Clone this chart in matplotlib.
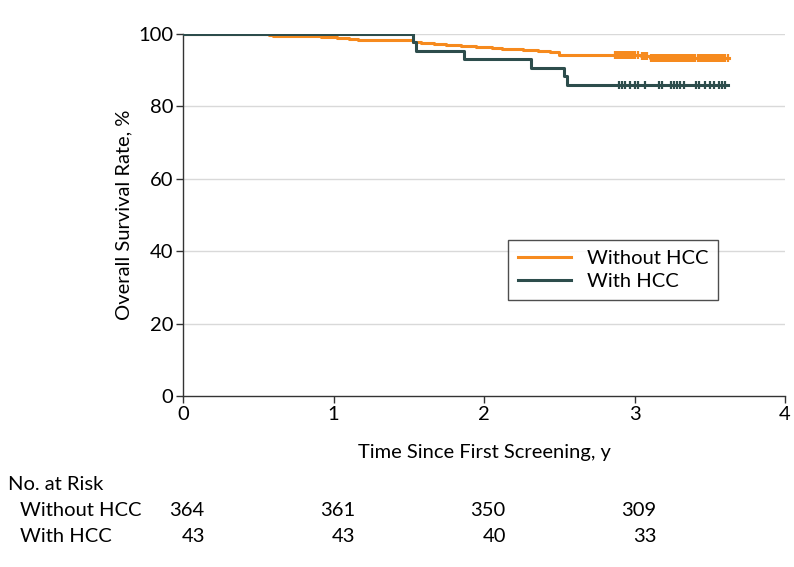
import numpy as np
import matplotlib
matplotlib.use('Agg')
import matplotlib.pyplot as plt
import matplotlib.transforms as mtransforms

plt.rcParams['font.family'] = ['Lato', 'DejaVu Sans']

ORANGE = '#F68A1E'
DARK = '#2D4D4C'
FS = 14.5

# Kaplan-Meier steps (time in years, survival in %)
no_hcc_t = [0, 0.57, 0.60, 0.92, 1.02, 1.10, 1.16, 1.53, 1.58, 1.67, 1.75, 1.85,
            1.95, 2.05, 2.12, 2.26, 2.36, 2.44, 2.50, 3.04, 3.10]
no_hcc_s = [100, 99.7, 99.4, 99.2, 98.9, 98.6, 98.3, 97.9, 97.6, 97.3, 97.0, 96.7,
            96.4, 96.2, 95.9, 95.6, 95.3, 95.0, 94.3, 93.8, 93.3]
no_hcc_end = 3.63
no_hcc_censor = [2.87, 2.88, 2.89, 2.90, 2.91, 2.92, 2.93, 2.94, 2.95, 2.96, 2.97,
                 2.98, 2.99, 3.00, 3.02, 3.05, 3.06, 3.07, 3.08, 3.11, 3.12, 3.13,
                 3.14, 3.15, 3.16, 3.17, 3.18, 3.19, 3.20, 3.21, 3.22, 3.23, 3.24,
                 3.25, 3.26, 3.27, 3.28, 3.29, 3.30, 3.31, 3.32, 3.33, 3.34, 3.35,
                 3.36, 3.37, 3.38, 3.39, 3.40, 3.42, 3.43, 3.44, 3.45, 3.46, 3.47,
                 3.48, 3.49, 3.50, 3.51, 3.52, 3.53, 3.54, 3.55, 3.56, 3.57, 3.58,
                 3.59, 3.60, 3.62]

hcc_t = [0, 1.53, 1.55, 1.87, 2.31, 2.53, 2.55]
hcc_s = [100, 97.7, 95.3, 93.0, 90.7, 88.3, 85.9]
hcc_end = 3.62
hcc_censor = [2.90, 2.92, 2.94, 2.97, 3.00, 3.02, 3.07, 3.16, 3.18, 3.24, 3.26,
              3.28, 3.30, 3.33, 3.41, 3.43, 3.47, 3.50, 3.53, 3.56, 3.58, 3.60]

risk_times = [0, 1, 2, 3]
risk_no_hcc = [364, 361, 350, 309]
risk_hcc = [43, 43, 40, 33]


def km_value(times, surv, x):
    idx = np.searchsorted(times, x, side='right') - 1
    return np.asarray(surv)[idx]


fig = plt.figure(figsize=(7.94, 5.67), dpi=100)
ax = fig.add_axes([0.2305, 0.3016, 0.7582, 0.6384])

for y in [20, 40, 60, 80, 100]:
    ax.axhline(y, color='#d9d9d9', lw=1, zorder=0)

for t, s, end, cens, col, lab in [
        (no_hcc_t, no_hcc_s, no_hcc_end, no_hcc_censor, ORANGE, 'Without HCC'),
        (hcc_t, hcc_s, hcc_end, hcc_censor, DARK, 'With HCC')]:
    xs = list(t) + [end]
    ys = list(s) + [s[-1]]
    ax.step(xs, ys, where='post', color=col, lw=2.2, label=lab, zorder=3)
    ax.plot(cens, km_value(t, s, np.array(cens)), ls='none', marker='|',
            ms=6, mew=1.6, color=col, zorder=4)

ax.set_xlim(0, 4)
ax.set_ylim(0, 100)
ax.set_xticks([0, 1, 2, 3, 4])
ax.set_yticks([0, 20, 40, 60, 80, 100])
for side in ['top', 'right']:
    ax.spines[side].set_visible(False)
for side in ['left', 'bottom']:
    ax.spines[side].set_color('#333333')
    ax.spines[side].set_linewidth(1)
ax.tick_params(direction='out', length=5, width=1, color='#333333',
               labelsize=FS, pad=2)
ax.set_xlabel('Time Since First Screening, y', fontsize=FS, labelpad=15)
ax.set_ylabel('Overall Survival Rate, %', fontsize=FS, labelpad=4)

leg = ax.legend(loc='upper left', bbox_to_anchor=(0.54, 0.432), fontsize=FS,
                frameon=True, fancybox=False, edgecolor='#222222',
                handlelength=2.6, borderpad=0.5, labelspacing=0.3,
                borderaxespad=0)
leg.get_frame().set_linewidth(1)

# number at risk table
fig.text(8 / 794, 1 - 484 / 567, 'No. at Risk', fontsize=FS, va='center')
fig.text(20 / 794, 1 - 511 / 567, 'Without HCC', fontsize=FS, va='center')
fig.text(20 / 794, 1 - 536 / 567, 'With HCC', fontsize=FS, va='center')
trans = mtransforms.blended_transform_factory(ax.transData, fig.transFigure)
for t, a, b in zip(risk_times, risk_no_hcc, risk_hcc):
    ax.text(t + 0.145, 1 - 511 / 567, str(a), transform=trans, ha='right',
            va='center', fontsize=FS, clip_on=False)
    ax.text(t + 0.145, 1 - 536 / 567, str(b), transform=trans, ha='right',
            va='center', fontsize=FS, clip_on=False)

fig.savefig('out.png', dpi=100)
